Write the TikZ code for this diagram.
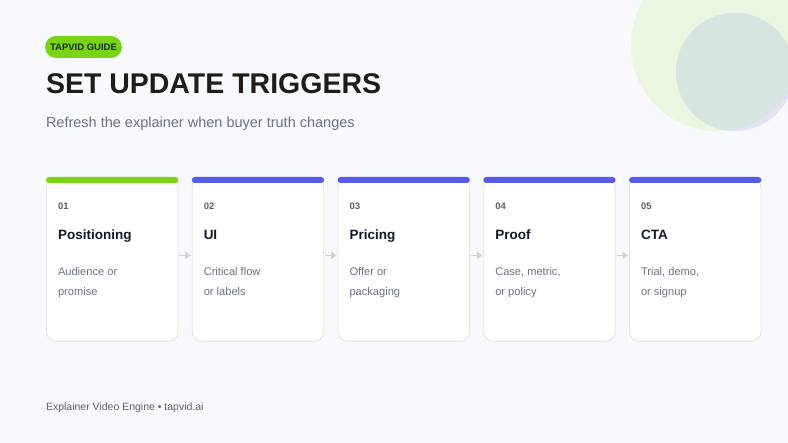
\documentclass[tikz,border=0pt]{standalone}
\usepackage{fontspec}
\setmainfont{Liberation Sans}
\usetikzlibrary{arrows.meta}
\definecolor{bg}{HTML}{F8F9FC}
\definecolor{circg}{HTML}{EAF6DF}
\definecolor{circb}{HTML}{E1E3F7}
\definecolor{circo}{HTML}{D8E4E0}
\definecolor{tgreen}{HTML}{78D414}
\definecolor{tblue}{HTML}{5A5CE8}
\definecolor{titlec}{HTML}{201C1A}
\definecolor{subc}{HTML}{6B7280}
\definecolor{numc}{HTML}{5A606B}
\definecolor{headc}{HTML}{111827}
\definecolor{descc}{HTML}{6B7280}
\definecolor{cardborder}{HTML}{E2E5EC}
\definecolor{arrc}{HTML}{CDD3E0}
\definecolor{pilltext}{HTML}{1A2A0A}
\begin{document}
\begin{tikzpicture}[x=1pt,y=-1pt,
  txt/.style={anchor=base west,inner sep=0pt,outer sep=0pt},
  card/.style={draw=cardborder,line width=0.9pt,fill=white,rounded corners=10pt,
    minimum width=131.5pt,minimum height=164pt,anchor=north west,inner sep=0pt},
  pill/.style={fill=tgreen,rounded corners=11pt,minimum width=77pt,minimum height=22pt,
    inner sep=0pt,text=pilltext,font=\fontsize{9.5}{10}\selectfont\bfseries},
  conn/.style={draw=arrc,line width=1.8pt,-{Triangle[length=5.5pt,width=7.5pt]},shorten <=1pt,shorten >=1pt}
]
\useasboundingbox (0,0) rectangle (788,443);
\fill[bg] (0,0) rectangle (788,443);
\begin{scope}
  \clip (0,0) rectangle (788,443);
  \fill[circg] (717,45) circle (86pt);
  \fill[circb] (735,72) circle (59pt);
  \begin{scope}
    \clip (717,45) circle (86pt);
    \fill[circo] (735,72) circle (59pt);
  \end{scope}
\end{scope}

\node[pill] (tag) at (83.5,47) {TAPVID GUIDE};
\node[txt,text=titlec,font=\fontsize{28.5}{30}\selectfont\bfseries] (title) at (46,94) {SET UPDATE TRIGGERS};
\node[txt,text=subc,font=\fontsize{14.5}{16}\selectfont] (sub) at (46,128) {Refresh the explainer when buyer truth changes};

\foreach \i/\num/\ttl/\la/\lb/\bc in {
  0/01/Positioning/{Audience or}/promise/tgreen,
  1/02/UI/{Critical flow}/{or labels}/tblue,
  2/03/Pricing/{Offer or}/packaging/tblue,
  3/04/Proof/{Case, metric,}/{or policy}/tblue,
  4/05/CTA/{Trial, demo,}/{or signup}/tblue}{
  \pgfmathsetmacro{\cx}{46+145.75*\i}
  \node[card] (c\i) at (\cx,177) {};
  \fill[\bc,rounded corners=3pt] (c\i.north west) rectangle ([yshift=-6pt]c\i.north east);
  \node[txt,text=numc,font=\fontsize{9.5}{10}\selectfont\bfseries] (n\i) at (\cx+12,209.5) {\num};
  \node[txt,text=headc,font=\fontsize{13.5}{15}\selectfont\bfseries] (h\i) at (\cx+12,240) {\ttl};
  \node[txt,text=descc,font=\fontsize{11.1}{13}\selectfont] (da\i) at (\cx+12,276) {\la};
  \node[txt,text=descc,font=\fontsize{11.1}{13}\selectfont] (db\i) at (\cx+12,296) {\lb};
}
\foreach \i [evaluate=\i as \j using int(\i+1)] in {0,...,3}{
  \draw[conn] ([yshift=4pt]c\i.east) -- ([yshift=4pt]c\j.west);
}

\node[txt,text=numc,font=\fontsize{10.5}{12}\selectfont] (foot) at (46,410.5) {Explainer Video Engine • tapvid.ai};
\end{tikzpicture}
\end{document}
